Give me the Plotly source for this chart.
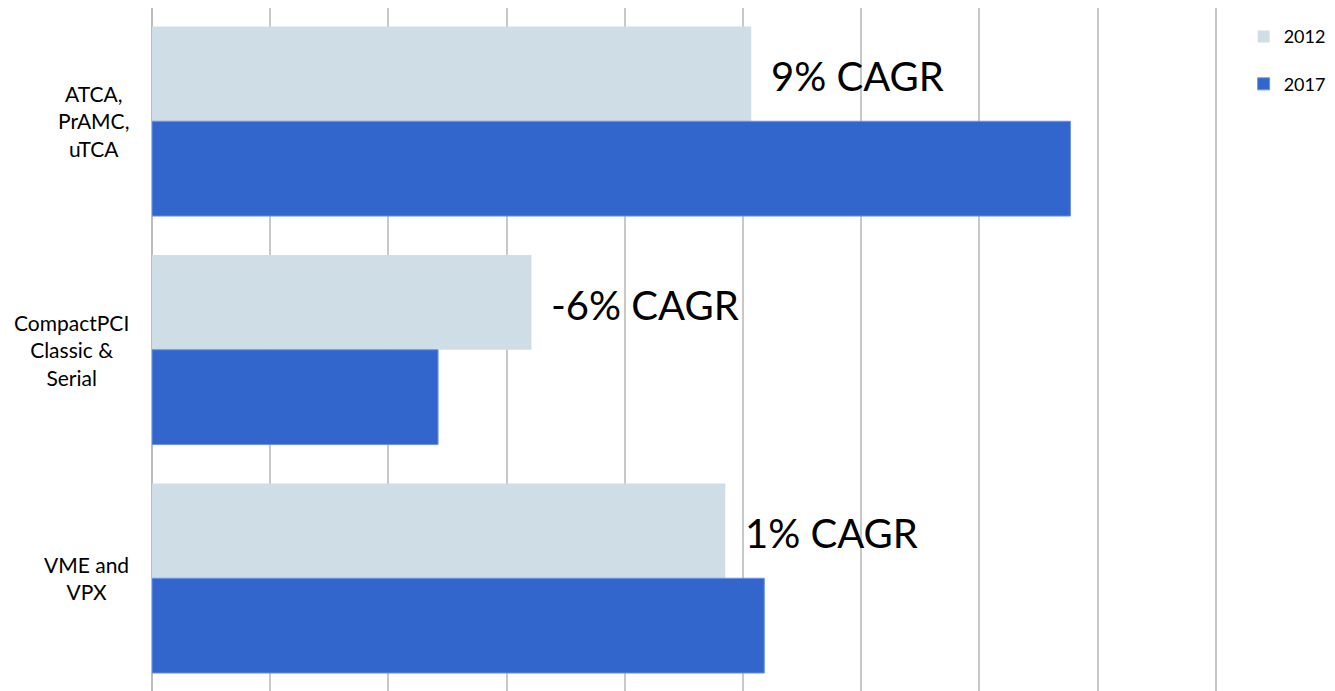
import plotly.graph_objects as go

categories = ["ATCA,<br>PrAMC,<br>uTCA", "CompactPCI<br>Classic &<br>Serial", "VME and<br>VPX"]
cat_keys = ["ATCA", "CompactPCI", "VME"]
series_names = ["2012", "2017"]
values_2012 = [507, 321, 485]
values_2017 = [777, 242, 518]
cagr_labels = ["9% CAGR", "-6% CAGR", "1% CAGR"]

colors = ["#cfdee6", "#3366cc"]
font_family = "Lato, 'Noto Sans', sans-serif"

fig = go.Figure()
fig.add_trace(go.Bar(
    y=cat_keys, x=values_2012, orientation="h", name=series_names[0],
    marker=dict(color=colors[0], line=dict(width=0)), legendgroup="a",
))
fig.add_trace(go.Bar(
    y=cat_keys, x=values_2017, orientation="h", name=series_names[1],
    marker=dict(color=colors[1], line=dict(width=1, color="#6a93e3")), legendgroup="b",
))

annotations = []
for key, label in zip(cat_keys, categories):
    annotations.append(dict(
        x=0, y=key, xref="x", yref="y", text=label, showarrow=False,
        xanchor="right", yanchor="middle", align="center", xshift=-21,
        font=dict(family=font_family, size=21, color="#000000"),
    ))
for key, v, txt in zip(cat_keys, values_2012, cagr_labels):
    annotations.append(dict(
        x=v, y=key, xref="x", yref="y", text=txt, showarrow=False,
        xanchor="left", yanchor="middle", xshift=18, yshift=45,
        font=dict(family=font_family, size=40, color="#000000"),
    ))

fig.update_layout(
    width=1327, height=683,
    margin=dict(l=144, r=118, t=0, b=0),
    paper_bgcolor="white", plot_bgcolor="white",
    barmode="group", bargap=0.17, bargroupgap=0,
    font=dict(family=font_family, color="#000000"),
    xaxis=dict(range=[0, 901], dtick=100, showgrid=True, gridcolor="#c8c8c8", gridwidth=2,
               zeroline=True, zerolinecolor="#bcbcbc", zerolinewidth=2,
               showticklabels=False, showline=False, ticks=""),
    yaxis=dict(type="category", categoryorder="array", categoryarray=cat_keys,
               range=[2.4935, -0.4956], showticklabels=False, showgrid=False,
               zeroline=False, showline=False, ticks=""),
    legend=dict(x=1.025, xanchor="left", y=0.985, yanchor="top",
                font=dict(family=font_family, size=18, color="#000000"),
                tracegroupgap=21, traceorder="grouped", bgcolor="rgba(0,0,0,0)"),
    annotations=annotations,
)

fig.write_html("out.html")
